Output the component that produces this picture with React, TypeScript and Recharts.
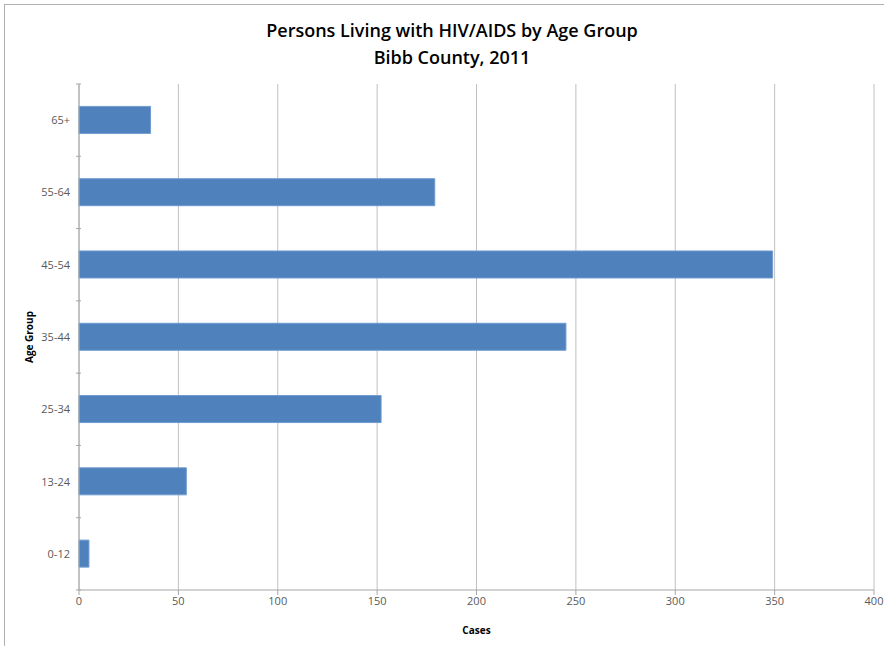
import React from "react";
import { BarChart, Bar, XAxis, YAxis, CartesianGrid, Label } from "recharts";

// top to bottom, as in the picture
const ageGroups = ["65+", "55-64", "45-54", "35-44", "25-34", "13-24", "0-12"];
const cases = [36, 179, 349, 245, 152, 54, 5];
const caseTicks = [0, 50, 100, 150, 200, 250, 300, 350, 400];

const data = ageGroups.map((g, i) => ({ group: g, cases: cases[i] }));

const FONT = "'Open Sans', sans-serif";
const TICK_COLOR = "#595959";
const AXIS_COLOR = "#a6a6a6";

// category tick: label at the band centre, small tick marks on band edges
function AgeTick(props: any) {
  const { x, y, payload, index } = props;
  const band = 506 / ageGroups.length;
  const x0 = x + 10;
  return (
    <g>
      {index === 0 && (
        <line x1={x0 - 5} x2={x0} y1={y - band / 2} y2={y - band / 2} stroke={AXIS_COLOR} />
      )}
      <line x1={x0 - 5} x2={x0} y1={y + band / 2} y2={y + band / 2} stroke={AXIS_COLOR} />
      <text x={x - 1} y={y} dy={4} textAnchor="end" fontSize={11} fill={TICK_COLOR} fontFamily={FONT}>
        {payload.value}
      </text>
    </g>
  );
}

export default function App() {
  return (
    <div
      style={{
        position: "absolute",
        left: 0,
        top: 0,
        width: 884,
        height: 646,
        background: "#fff",
        fontFamily: FONT,
      }}
    >
      <div
        style={{
          position: "absolute",
          left: 4,
          top: 4,
          width: 880,
          height: 642,
          border: "1px solid #b0b0b0",
          borderRight: "none",
          borderBottom: "none",
          boxSizing: "border-box",
        }}
      />
      <div
        style={{
          position: "absolute",
          left: 0,
          top: 17,
          width: 904,
          textAlign: "center",
          fontSize: 18,
          fontWeight: 600,
          lineHeight: "27px",
          color: "#000",
        }}
      >
        Persons Living with HIV/AIDS by Age Group
        <br />
        Bibb County, 2011
      </div>
      <div style={{ position: "absolute", left: 0, top: 0 }}>
        <BarChart
          width={884}
          height={646}
          data={data}
          layout="vertical"
          margin={{ top: 84, right: 10, left: 19, bottom: 26 }}
          barCategoryGap="31%"
        >
          <CartesianGrid horizontal={false} stroke="#c0c0c0" strokeWidth={1} />
          <XAxis
            type="number"
            domain={[0, 400]}
            ticks={caseTicks}
            interval={0}
            height={30}
            stroke={AXIS_COLOR}
            tickSize={5}
            tick={{ fontSize: 11, fill: TICK_COLOR, fontFamily: FONT }}
          >
            <Label
              value="Cases"
              position="insideBottom"
              offset={-14}
              style={{ fontSize: 10, fontWeight: "bold", fill: "#000", fontFamily: FONT }}
            />
          </XAxis>
          <YAxis
            type="category"
            dataKey="group"
            width={60}
            stroke={AXIS_COLOR}
            tickLine={false}
            tick={<AgeTick />}
            interval={0}
          >
            <Label
              value="Age Group"
              angle={-90}
              position="insideLeft"
              offset={10}
              style={{ fontSize: 10, fontWeight: "bold", fill: "#000", textAnchor: "middle", fontFamily: FONT }}
            />
          </YAxis>
          <Bar dataKey="cases" fill="#4f81bd" stroke="#6f9bd0" strokeWidth={1} isAnimationActive={false} />
        </BarChart>
      </div>
    </div>
  );
}
